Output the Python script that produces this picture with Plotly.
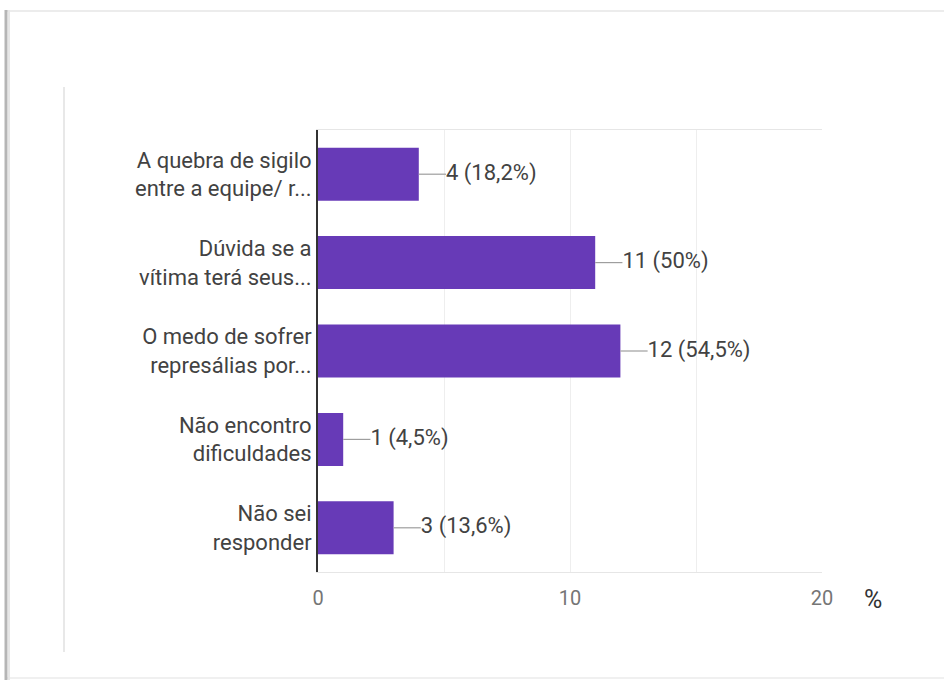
import plotly.graph_objects as go

# Survey answers (labels truncated as in the form summary) and counts
categories = [
    "A quebra de sigilo<br>entre a equipe/ r...",
    "Dúvida se a<br>vítima terá seus...",
    "O medo de sofrer<br>represálias por...",
    "Não encontro<br>dificuldades",
    "Não sei<br>responder",
]
counts = [4, 11, 12, 1, 3]
percents = ["18,2%", "50%", "54,5%", "4,5%", "13,6%"]
x_ticks = [0, 10, 20]

BAR = "#673ab7"
W, H = 944, 680
ML, MR, MT, MB = 318, 122, 130, 108
PW, PH = W - ML - MR, H - MT - MB

# leader-line length in data units
LEAD = 1.08

def px_x(px):
    return (px - ML) / PW

def px_y(py):
    return 1 - (py - MT) / PH

fig = go.Figure()

fig.add_trace(go.Bar(
    x=counts, y=categories, orientation="h",
    marker=dict(color=BAR, line=dict(width=0)),
    hoverinfo="skip", showlegend=False,
))

# leader lines from each bar end to its value label
lx, ly = [], []
for c, cat in zip(counts, categories):
    lx += [c, c + LEAD, None]
    ly += [cat, cat, None]
fig.add_trace(go.Scatter(
    x=lx, y=ly, mode="lines",
    line=dict(color="#9e9e9e", width=1.2),
    hoverinfo="skip", showlegend=False,
))

fig.add_trace(go.Scatter(
    x=[c + LEAD for c in counts], y=categories, mode="text",
    text=[f"{c} ({p})" for c, p in zip(counts, percents)],
    textposition="middle right",
    textfont=dict(family="Roboto", size=22, color="#424242"),
    cliponaxis=False, hoverinfo="skip", showlegend=False,
))

shapes = [
    # card outline with shadowed left edge
    dict(type="line", xref="paper", yref="paper",
         x0=px_x(5), x1=px_x(944), y0=px_y(11), y1=px_y(11),
         line=dict(color="#ececec", width=2)),
    dict(type="line", xref="paper", yref="paper",
         x0=px_x(5), x1=px_x(944), y0=px_y(678), y1=px_y(678),
         line=dict(color="#f0f0f0", width=2)),
    dict(type="line", xref="paper", yref="paper",
         x0=px_x(6), x1=px_x(6), y0=px_y(10), y1=px_y(680),
         line=dict(color="#b5b5b5", width=3)),
    dict(type="line", xref="paper", yref="paper",
         x0=px_x(9), x1=px_x(9), y0=px_y(10), y1=px_y(680),
         line=dict(color="#e6e6e6", width=2)),
    # inner divider
    dict(type="line", xref="paper", yref="paper",
         x0=px_x(64), x1=px_x(64), y0=px_y(87), y1=px_y(652),
         line=dict(color="#e0e0e0", width=1.5)),
]

fig.update_layout(
    width=W, height=H,
    margin=dict(l=ML, r=MR, t=MT, b=MB),
    paper_bgcolor="white", plot_bgcolor="white",
    bargap=0.4,
    font=dict(family="Roboto", size=22, color="#424242"),
    shapes=shapes,
    annotations=[dict(
        text="%", xref="paper", yref="paper",
        x=px_x(873), y=px_y(599), xanchor="center", yanchor="middle",
        showarrow=False, font=dict(family="Roboto", size=25, color="#333333"),
    )],
    xaxis=dict(
        range=[0, 20], tickvals=x_ticks, ticktext=[str(v) for v in x_ticks],
        showgrid=True, gridcolor="#eeeeee", gridwidth=1,
        minor=dict(dtick=5, showgrid=True, gridcolor="#eeeeee", gridwidth=1),
        showline=True, linecolor="#e6e6e6", linewidth=1, mirror=True,
        zeroline=False, ticks="", ticklabelstandoff=8,
        tickfont=dict(family="Roboto", size=20, color="#757575"),
        fixedrange=True,
    ),
    yaxis=dict(
        autorange="reversed", showgrid=False, zeroline=False,
        showline=True, linecolor="#333333", linewidth=2,
        ticks="", ticklabelstandoff=0,
        tickfont=dict(family="Roboto", size=22, color="#424242"),
        fixedrange=True,
    ),
)

fig.write_html("out.html")
